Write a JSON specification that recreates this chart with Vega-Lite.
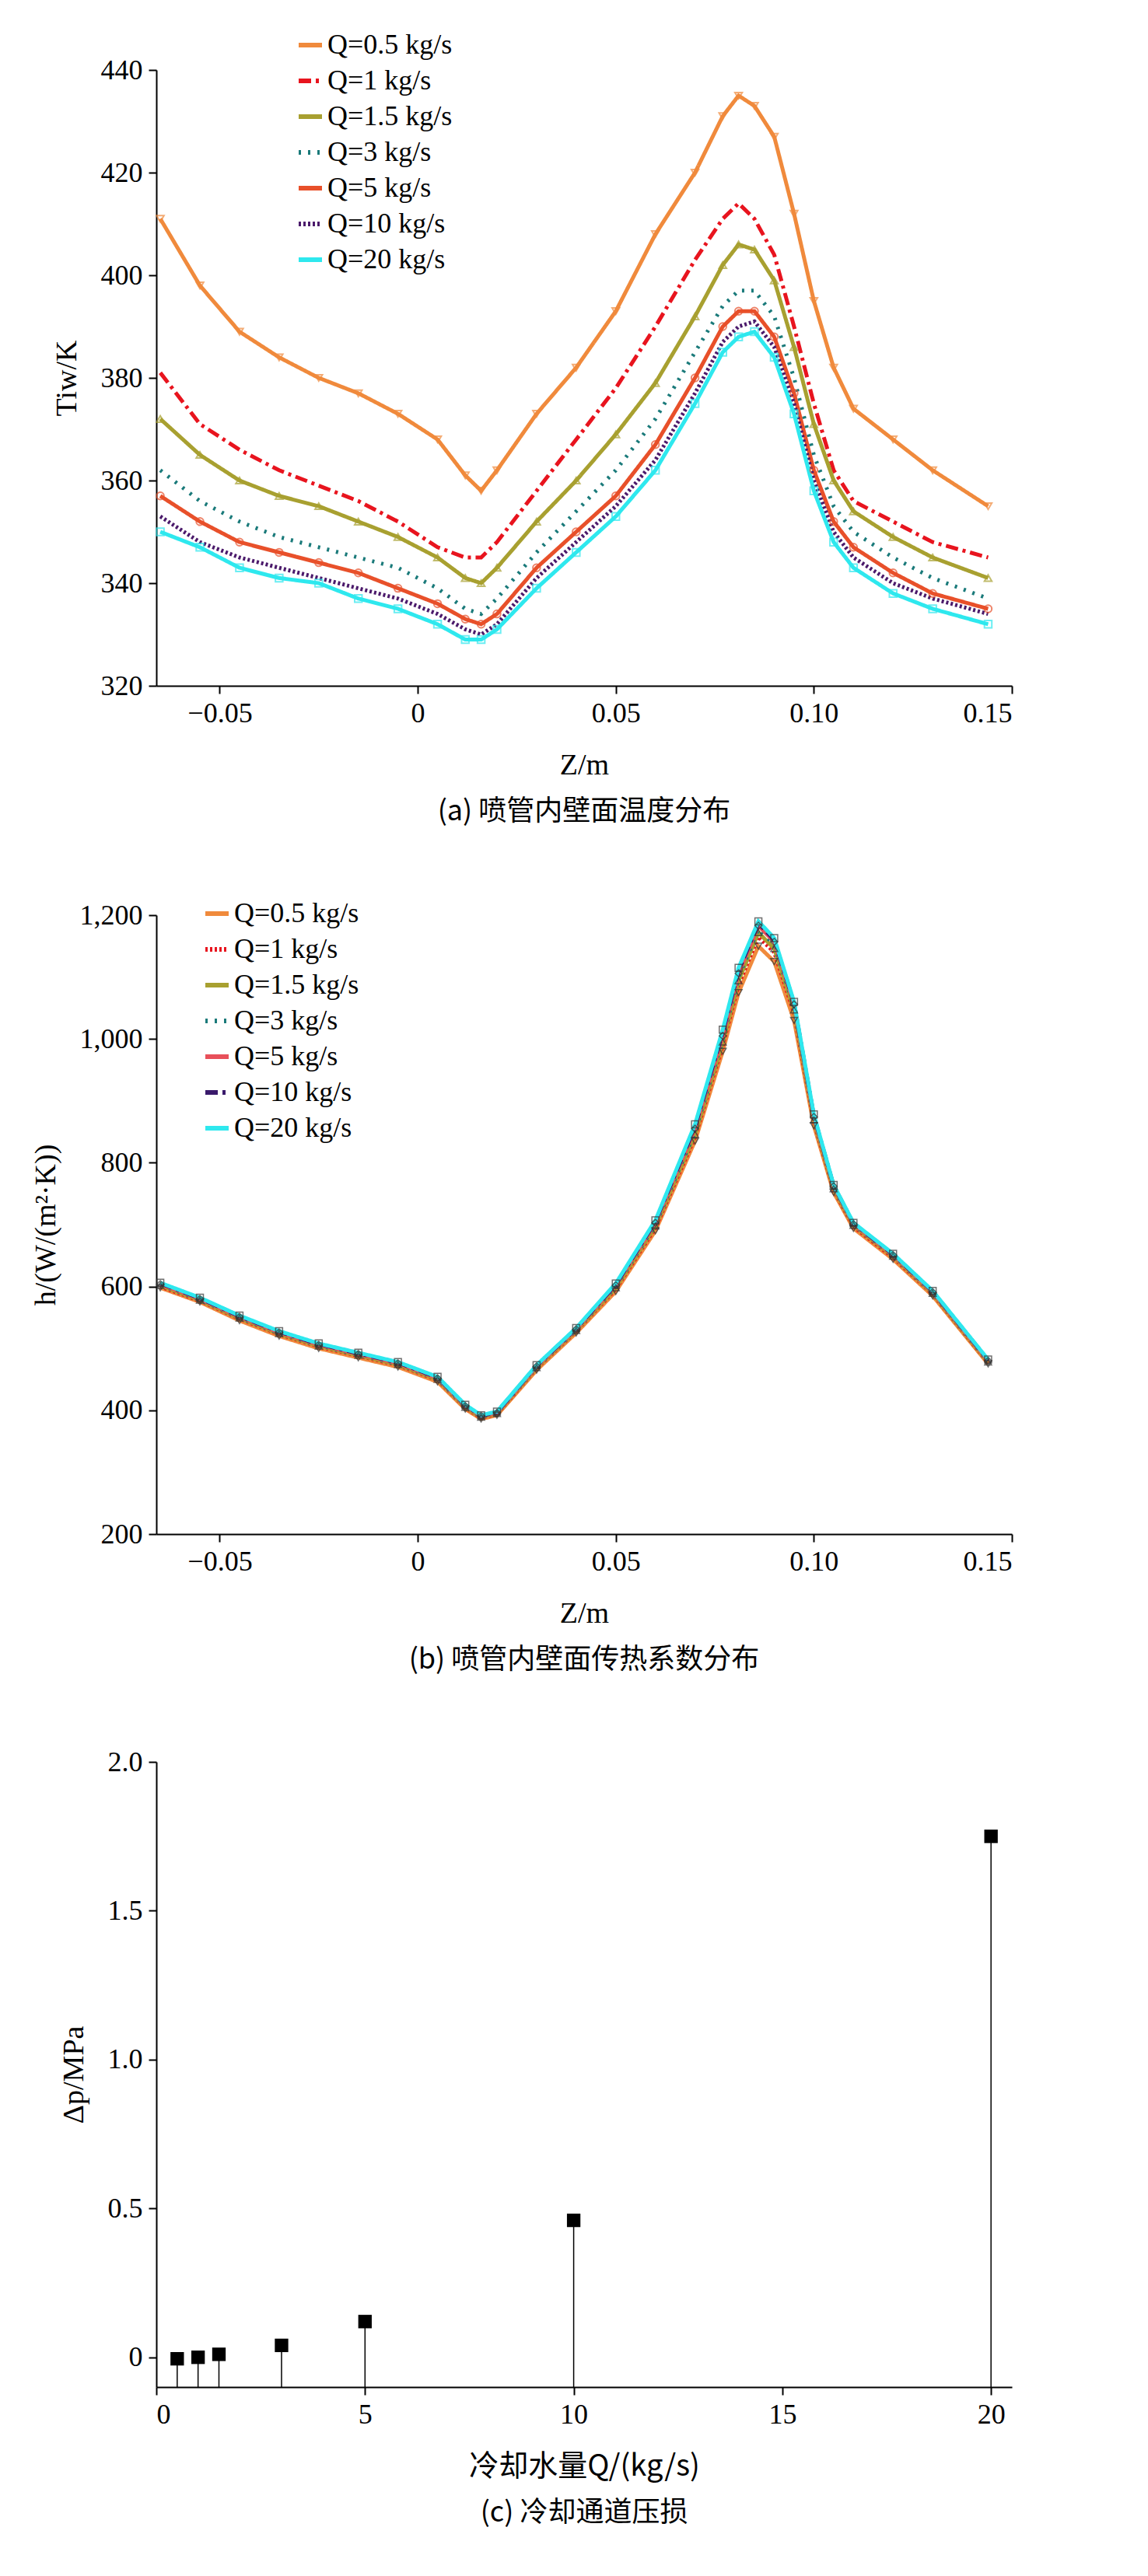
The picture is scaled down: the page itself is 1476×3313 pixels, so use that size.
{
  "$schema": "https://vega.github.io/schema/vega-lite/v6.json",
  "background": "white",
  "padding": {"left": 40, "top": 40, "right": 60, "bottom": 10},
  "spacing": 95,
  "resolve": {"scale": {"color": "independent", "strokeDash": "independent", "shape": "independent", "x": "independent", "y": "independent"}, "legend": {"color": "independent", "strokeDash": "independent", "shape": "independent"}},
  "config": {
    "font": "Liberation Serif",
    "view": {"stroke": null},
    "axis": {"labelFontSize": 36, "titleFontSize": 38, "titleFontWeight": "normal", "grid": false, "domainColor": "black", "domainWidth": 2, "tickColor": "black", "tickWidth": 2, "tickSize": 10, "labelColor": "black", "titleColor": "black", "labelPadding": 8},
    "title": {"fontSize": 36, "fontWeight": "normal", "orient": "bottom", "anchor": "middle", "color": "black", "offset": 24},
    "legend": {"labelFontSize": 36, "symbolSize": 900, "symbolStrokeWidth": 6, "rowPadding": 10, "labelLimit": 400}
  },
  "datasets": {
    "temp": [
      {"z": -0.065, "q05": 411, "q1": 381, "q15": 372, "q3": 362, "q5": 357, "q10": 353, "q20": 350},
      {"z": -0.055, "q05": 398, "q1": 371, "q15": 365, "q3": 356, "q5": 352, "q10": 348, "q20": 347},
      {"z": -0.045, "q05": 389, "q1": 366, "q15": 360, "q3": 352, "q5": 348, "q10": 345, "q20": 343},
      {"z": -0.035, "q05": 384, "q1": 362, "q15": 357, "q3": 349, "q5": 346, "q10": 343, "q20": 341},
      {"z": -0.025, "q05": 380, "q1": 359, "q15": 355, "q3": 347, "q5": 344, "q10": 341, "q20": 340},
      {"z": -0.015, "q05": 377, "q1": 356, "q15": 352, "q3": 345, "q5": 342, "q10": 339, "q20": 337},
      {"z": -0.005, "q05": 373, "q1": 352, "q15": 349, "q3": 343, "q5": 339, "q10": 337, "q20": 335},
      {"z": 0.005, "q05": 368, "q1": 347, "q15": 345, "q3": 339, "q5": 336, "q10": 334, "q20": 332},
      {"z": 0.012, "q05": 361, "q1": 345, "q15": 341, "q3": 335, "q5": 333, "q10": 331, "q20": 329},
      {"z": 0.016, "q05": 358, "q1": 345, "q15": 340, "q3": 334, "q5": 332, "q10": 330, "q20": 329},
      {"z": 0.020, "q05": 362, "q1": 348, "q15": 343, "q3": 337, "q5": 334, "q10": 332, "q20": 331},
      {"z": 0.030, "q05": 373, "q1": 358, "q15": 352, "q3": 346, "q5": 343, "q10": 341, "q20": 339},
      {"z": 0.040, "q05": 382, "q1": 368, "q15": 360, "q3": 354, "q5": 350, "q10": 348, "q20": 346},
      {"z": 0.050, "q05": 393, "q1": 378, "q15": 369, "q3": 362, "q5": 357, "q10": 355, "q20": 353},
      {"z": 0.060, "q05": 408, "q1": 390, "q15": 379, "q3": 372, "q5": 367, "q10": 364, "q20": 362},
      {"z": 0.070, "q05": 420, "q1": 403, "q15": 392, "q3": 385, "q5": 380, "q10": 377, "q20": 375},
      {"z": 0.077, "q05": 431, "q1": 411, "q15": 402, "q3": 394, "q5": 390, "q10": 387, "q20": 385},
      {"z": 0.081, "q05": 435, "q1": 414, "q15": 406, "q3": 397, "q5": 393, "q10": 390, "q20": 388},
      {"z": 0.085, "q05": 433, "q1": 411, "q15": 405, "q3": 397, "q5": 393, "q10": 391, "q20": 389},
      {"z": 0.090, "q05": 427, "q1": 404, "q15": 399, "q3": 392, "q5": 388, "q10": 386, "q20": 384},
      {"z": 0.095, "q05": 412, "q1": 390, "q15": 386, "q3": 380, "q5": 377, "q10": 375, "q20": 373},
      {"z": 0.100, "q05": 395, "q1": 375, "q15": 371, "q3": 365, "q5": 362, "q10": 360, "q20": 358},
      {"z": 0.105, "q05": 382, "q1": 362, "q15": 360, "q3": 355, "q5": 352, "q10": 350, "q20": 348},
      {"z": 0.110, "q05": 374, "q1": 356, "q15": 354, "q3": 350, "q5": 347, "q10": 345, "q20": 343},
      {"z": 0.120, "q05": 368, "q1": 352, "q15": 349, "q3": 345, "q5": 342, "q10": 340, "q20": 338},
      {"z": 0.130, "q05": 362, "q1": 348, "q15": 345, "q3": 341, "q5": 338, "q10": 337, "q20": 335},
      {"z": 0.144, "q05": 355, "q1": 345, "q15": 341, "q3": 337, "q5": 335, "q10": 334, "q20": 332}
    ],
    "htc": [
      {"z": -0.065, "q05": 598, "q1": 600, "q15": 602, "q3": 603, "q5": 604, "q10": 605, "q20": 606},
      {"z": -0.055, "q05": 575, "q1": 577, "q15": 578, "q3": 579, "q5": 580, "q10": 581, "q20": 582},
      {"z": -0.045, "q05": 545, "q1": 548, "q15": 549, "q3": 550, "q5": 551, "q10": 552, "q20": 553},
      {"z": -0.035, "q05": 520, "q1": 523, "q15": 524, "q3": 525, "q5": 526, "q10": 527, "q20": 528},
      {"z": -0.025, "q05": 500, "q1": 503, "q15": 504, "q3": 505, "q5": 506, "q10": 507, "q20": 508},
      {"z": -0.015, "q05": 485, "q1": 488, "q15": 489, "q3": 490, "q5": 491, "q10": 492, "q20": 493},
      {"z": -0.005, "q05": 470, "q1": 473, "q15": 474, "q3": 475, "q5": 476, "q10": 477, "q20": 478},
      {"z": 0.005, "q05": 446, "q1": 449, "q15": 450, "q3": 451, "q5": 452, "q10": 453, "q20": 454},
      {"z": 0.012, "q05": 402, "q1": 404, "q15": 405, "q3": 406, "q5": 407, "q10": 408, "q20": 409},
      {"z": 0.016, "q05": 386, "q1": 388, "q15": 389, "q3": 390, "q5": 391, "q10": 391, "q20": 392},
      {"z": 0.020, "q05": 392, "q1": 394, "q15": 395, "q3": 396, "q5": 396, "q10": 397, "q20": 398},
      {"z": 0.030, "q05": 465, "q1": 468, "q15": 469, "q3": 470, "q5": 471, "q10": 472, "q20": 473},
      {"z": 0.040, "q05": 525, "q1": 528, "q15": 529, "q3": 530, "q5": 531, "q10": 532, "q20": 533},
      {"z": 0.050, "q05": 592, "q1": 596, "q15": 598, "q3": 600, "q5": 602, "q10": 603, "q20": 605},
      {"z": 0.060, "q05": 690, "q1": 695, "q15": 698, "q3": 700, "q5": 703, "q10": 705, "q20": 707},
      {"z": 0.070, "q05": 835, "q1": 842, "q15": 846, "q3": 850, "q5": 855, "q10": 858, "q20": 862},
      {"z": 0.077, "q05": 980, "q1": 990, "q15": 995, "q3": 1000, "q5": 1005, "q10": 1010, "q20": 1015},
      {"z": 0.081, "q05": 1075, "q1": 1088, "q15": 1094, "q3": 1100, "q5": 1106, "q10": 1110, "q20": 1115},
      {"z": 0.086, "q05": 1150, "q1": 1165, "q15": 1172, "q3": 1178, "q5": 1183, "q10": 1187, "q20": 1190},
      {"z": 0.090, "q05": 1125, "q1": 1140, "q15": 1146, "q3": 1152, "q5": 1157, "q10": 1160, "q20": 1163},
      {"z": 0.095, "q05": 1030, "q1": 1042, "q15": 1047, "q3": 1052, "q5": 1056, "q10": 1058, "q20": 1060},
      {"z": 0.100, "q05": 860, "q1": 866, "q15": 869, "q3": 872, "q5": 874, "q10": 876, "q20": 878},
      {"z": 0.105, "q05": 752, "q1": 756, "q15": 758, "q3": 760, "q5": 762, "q10": 763, "q20": 764},
      {"z": 0.110, "q05": 694, "q1": 697, "q15": 699, "q3": 700, "q5": 701, "q10": 702, "q20": 703},
      {"z": 0.120, "q05": 644, "q1": 647, "q15": 649, "q3": 650, "q5": 651, "q10": 652, "q20": 653},
      {"z": 0.130, "q05": 585, "q1": 588, "q15": 589, "q3": 590, "q5": 591, "q10": 592, "q20": 593},
      {"z": 0.144, "q05": 475, "q1": 477, "q15": 478, "q3": 479, "q5": 480, "q10": 481, "q20": 482}
    ],
    "dp": [
      {"Q": 0.5, "dp": -0.005},
      {"Q": 1, "dp": 0.0},
      {"Q": 1.5, "dp": 0.01},
      {"Q": 3, "dp": 0.04},
      {"Q": 5, "dp": 0.12},
      {"Q": 10, "dp": 0.46},
      {"Q": 20, "dp": 1.75}
    ]
  },
  "vconcat": [
    {
      "width": 1100,
      "height": 792,
      "title": {"text": "(a) 喷管内壁面温度分布", "font": "Noto Sans CJK SC"},
      "data": {"name": "temp"},
      "transform": [{"fold": ["q05", "q1", "q15", "q3", "q5", "q10", "q20"], "as": ["series", "T"]}],
      "layer": [
        {
          "mark": {"type": "line", "strokeWidth": 5},
          "encoding": {
            "x": {"field": "z", "type": "quantitative", "title": "Z/m", "scale": {"domain": [-0.066, 0.15], "nice": false, "zero": false}, "axis": {"values": [-0.05, 0, 0.05, 0.1, 0.15], "labelExpr": "datum.value == 0 ? '0' : datum.value == 0.1 ? '0.10' : format(datum.value, '.2f')", "titlePadding": 30}},
            "y": {"field": "T", "type": "quantitative", "title": "Tiw/K", "scale": {"domain": [320, 440], "nice": false, "zero": false}, "axis": {"values": [320, 340, 360, 380, 400, 420, 440], "titlePadding": 24}},
            "color": {"field": "series", "type": "nominal",
              "scale": {"domain": ["q05", "q1", "q15", "q3", "q5", "q10", "q20"], "range": ["#F08A3C", "#E8141E", "#A8A030", "#1A7A7A", "#E8502A", "#4B1A6B", "#2EE8EE"]},
              "legend": {"orient": "none", "legendX": 180, "legendY": -50, "title": null, "labelExpr": "{'q05':'Q=0.5 kg/s','q1':'Q=1 kg/s','q15':'Q=1.5 kg/s','q3':'Q=3 kg/s','q5':'Q=5 kg/s','q10':'Q=10 kg/s','q20':'Q=20 kg/s'}[datum.label]"}},
            "strokeDash": {"field": "series", "type": "nominal",
              "scale": {"domain": ["q05", "q1", "q15", "q3", "q5", "q10", "q20"], "range": [[1, 0], [16, 6, 4, 6], [1, 0], [3, 9], [1, 0], [3, 3], [1, 0]]},
              "legend": {"orient": "none", "legendX": 180, "legendY": -50, "title": null, "labelExpr": "{'q05':'Q=0.5 kg/s','q1':'Q=1 kg/s','q15':'Q=1.5 kg/s','q3':'Q=3 kg/s','q5':'Q=5 kg/s','q10':'Q=10 kg/s','q20':'Q=20 kg/s'}[datum.label]"}}
          }
        },
        {
          "mark": {"type": "point", "filled": false, "size": 90, "strokeWidth": 2},
          "transform": [{"filter": "indexof(['q05','q15','q5','q20'], datum.series) >= 0"}],
          "encoding": {
            "x": {"field": "z", "type": "quantitative"},
            "y": {"field": "T", "type": "quantitative"},
            "color": {"field": "series", "type": "nominal", "legend": null},
            "shape": {"field": "series", "type": "nominal", "legend": null,
              "scale": {"domain": ["q05", "q15", "q5", "q20"], "range": ["triangle-down", "triangle-up", "circle", "square"]}}
          }
        }
      ]
    },
    {
      "width": 1100,
      "height": 796,
      "title": {"text": "(b) 喷管内壁面传热系数分布", "font": "Noto Sans CJK SC"},
      "data": {"name": "htc"},
      "transform": [{"fold": ["q05", "q1", "q15", "q3", "q5", "q10", "q20"], "as": ["series", "h"]}],
      "layer": [
        {
          "mark": {"type": "line", "strokeWidth": 5},
          "encoding": {
            "x": {"field": "z", "type": "quantitative", "title": "Z/m", "scale": {"domain": [-0.066, 0.15], "nice": false, "zero": false}, "axis": {"values": [-0.05, 0, 0.05, 0.1, 0.15], "labelExpr": "datum.value == 0 ? '0' : datum.value == 0.1 ? '0.10' : format(datum.value, '.2f')", "titlePadding": 30}},
            "y": {"field": "h", "type": "quantitative", "title": "h/(W/(m²·K))", "scale": {"domain": [200, 1200], "nice": false, "zero": false}, "axis": {"values": [200, 400, 600, 800, 1000, 1200], "titlePadding": 24}},
            "color": {"field": "series", "type": "nominal",
              "scale": {"domain": ["q05", "q1", "q15", "q3", "q5", "q10", "q20"], "range": ["#F08A3C", "#E8141E", "#A8A030", "#1A7A7A", "#E8505A", "#3A1A6B", "#2EE8EE"]},
              "legend": {"orient": "none", "legendX": 60, "legendY": -20, "title": null, "labelExpr": "{'q05':'Q=0.5 kg/s','q1':'Q=1 kg/s','q15':'Q=1.5 kg/s','q3':'Q=3 kg/s','q5':'Q=5 kg/s','q10':'Q=10 kg/s','q20':'Q=20 kg/s'}[datum.label]"}},
            "strokeDash": {"field": "series", "type": "nominal",
              "scale": {"domain": ["q05", "q1", "q15", "q3", "q5", "q10", "q20"], "range": [[1, 0], [3, 3], [1, 0], [3, 9], [1, 0], [16, 6, 4, 6], [1, 0]]},
              "legend": {"orient": "none", "legendX": 60, "legendY": -20, "title": null, "labelExpr": "{'q05':'Q=0.5 kg/s','q1':'Q=1 kg/s','q15':'Q=1.5 kg/s','q3':'Q=3 kg/s','q5':'Q=5 kg/s','q10':'Q=10 kg/s','q20':'Q=20 kg/s'}[datum.label]"}}
          }
        },
        {
          "mark": {"type": "point", "filled": false, "size": 80, "strokeWidth": 1.5, "color": "#333333"},
          "transform": [{"filter": "indexof(['q05','q15','q5','q20'], datum.series) >= 0"}],
          "encoding": {
            "x": {"field": "z", "type": "quantitative"},
            "y": {"field": "h", "type": "quantitative"},
            "shape": {"field": "series", "type": "nominal", "legend": null,
              "scale": {"domain": ["q05", "q15", "q5", "q20"], "range": ["triangle-down", "triangle-up", "diamond", "square"]}}
          }
        }
      ]
    },
    {
      "width": 1100,
      "height": 804,
      "title": {"text": "(c) 冷却通道压损", "font": "Noto Sans CJK SC"},
      "data": {"name": "dp"},
      "layer": [
        {
          "mark": {"type": "rule", "color": "black", "strokeWidth": 1.5},
          "encoding": {
            "x": {"field": "Q", "type": "quantitative", "title": "冷却水量Q/(kg/s)", "scale": {"domain": [0, 20.5], "nice": false}, "axis": {"values": [0, 5, 10, 15, 20], "titlePadding": 30, "titleFont": "Noto Sans CJK SC"}},
            "y": {"field": "dp", "type": "quantitative", "title": "Δp/MPa", "scale": {"domain": [-0.1, 2.0], "nice": false, "zero": false}, "axis": {"values": [0, 0.5, 1.0, 1.5, 2.0], "labelExpr": "datum.value == 0 ? '0' : format(datum.value, '.1f')", "titlePadding": 24}},
            "y2": {"datum": -0.1}
          }
        },
        {
          "mark": {"type": "square", "color": "black", "opacity": 1, "size": 300},
          "encoding": {
            "x": {"field": "Q", "type": "quantitative"},
            "y": {"field": "dp", "type": "quantitative"}
          }
        }
      ]
    }
  ]
}
